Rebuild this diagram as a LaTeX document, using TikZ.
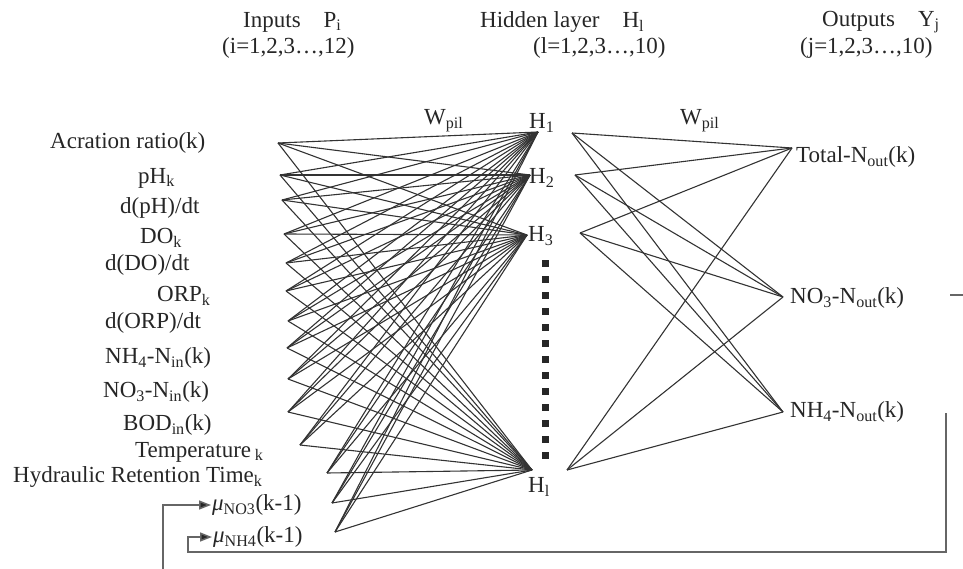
\documentclass[tikz,border=0pt]{standalone}
\usepackage{fontspec}
\setmainfont{Liberation Serif}
\usetikzlibrary{arrows.meta}
\begin{document}
\begin{tikzpicture}[x=1pt,y=-1pt,
  every node/.style={font=\fontsize{23}{27}\selectfont, text=black!85, inner sep=0pt},
  lbl/.style={anchor=west},
  wire/.style={draw=black!80, line width=1.1pt},
  fb/.style={draw=black!60, line width=1.5pt},
  fbarrow/.style={fb, -{Triangle[length=12pt,width=9pt,fill=black!85]}, shorten >=1pt},
  dotsq/.style={fill=black!85}]
\useasboundingbox (0,0) rectangle (963,569);

% headers
\node[lbl] (hin)  at (243,22) {Inputs\quad P\textsubscript{i}};
\node[lbl] (hin2) at (222,48) {(i=1,2,3…,12)};
\node[lbl] (hhd)  at (480,22) {Hidden layer\quad H\textsubscript{l}};
\node[lbl] (hhd2) at (533,48) {(l=1,2,3…,10)};
\node[lbl] (hout) at (822,22) {Outputs\quad Y\textsubscript{j}};
\node[lbl] (hout2) at (800,48) {(j=1,2,3…,10)};

% input labels
\node[lbl] (t1)  at (50,143)  {Acration ratio(k)};
\node[lbl] (t2)  at (138,178) {pH\textsubscript{k}};
\node[lbl] (t3)  at (120,208) {d(pH)/dt};
\node[lbl] (t4)  at (140,238) {DO\textsubscript{k}};
\node[lbl] (t5)  at (105,265) {d(DO)/dt};
\node[lbl] (t6)  at (157,296) {ORP\textsubscript{k}};
\node[lbl] (t7)  at (105,323) {d(ORP)/dt};
\node[lbl] (t8)  at (105,358) {NH\textsubscript{4}-N\textsubscript{in}(k)};
\node[lbl] (t9)  at (103,392) {NO\textsubscript{3}-N\textsubscript{in}(k)};
\node[lbl] (t10) at (123,425) {BOD\textsubscript{in}(k)};
\node[lbl] (t11) at (135,452) {Temperature\,\textsubscript{k}};
\node[lbl] (t12) at (13,477)  {Hydraulic Retention Time\textsubscript{k}};
\node[lbl] (mu1) at (212,505) {{\itshape μ}\textsubscript{NO3}(k-1)};
\node[lbl] (mu2) at (213,537) {{\itshape μ}\textsubscript{NH4}(k-1)};

% input apexes
\coordinate (in1)  at (278,143);
\coordinate (in2)  at (280,175);
\coordinate (in3)  at (282,200);
\coordinate (in4)  at (284,234);
\coordinate (in5)  at (286,263);
\coordinate (in6)  at (286,291);
\coordinate (in7)  at (288,321);
\coordinate (in8)  at (287,348);
\coordinate (in9)  at (288,379);
\coordinate (in10) at (288,412);
\coordinate (in11) at (300,445);
\coordinate (in12) at (327,473);
\coordinate (in13) at (332,503);
\coordinate (in14) at (335,532);

% hidden apexes
\coordinate (h1) at (538,132);
\coordinate (h2) at (530,175);
\coordinate (h3) at (527,235);
\coordinate (h4) at (532,470);
\coordinate (r1) at (572,133);
\coordinate (r2) at (575,175);
\coordinate (r3) at (580,233);
\coordinate (r4) at (567,470);

% output apexes
\coordinate (o1) at (792,148);
\coordinate (o2) at (783,297);
\coordinate (o3) at (783,412);

% connections
\foreach \i in {1,...,14}
  \foreach \h in {1,...,4}
    \draw[wire] (in\i) -- (h\h);
\foreach \h in {1,...,4}
  \foreach \o in {1,2,3}
    \draw[wire] (r\h) -- (o\o);

% hidden labels
\node[lbl] (hl1) at (529,123) {H\textsubscript{1}};
\node[lbl] (hl2) at (529,178) {H\textsubscript{2}};
\node[lbl] (hl3) at (528,236) {H\textsubscript{3}};
\node[lbl] (hl4) at (528,487) {H\textsubscript{l}};

% weight labels
\node[lbl] (w1) at (424,121) {W\textsubscript{pil}};
\node[lbl] (w2) at (680,121) {W\textsubscript{pil}};

% dotted column
\foreach \k in {0,...,12}
  \fill[dotsq] (542,{260+16*\k}) rectangle ++(7,7);

% output labels
\node[lbl] (ol1) at (796,157) {Total-N\textsubscript{out}(k)};
\node[lbl] (ol2) at (790,298) {NO\textsubscript{3}-N\textsubscript{out}(k)};
\node[lbl] (ol3) at (790,412) {NH\textsubscript{4}-N\textsubscript{out}(k)};

% feedback lines
\coordinate (st1) at (950,295);
\coordinate (st2) at (963,295);
\draw[fb] (st1) -- (st2);
\coordinate (fbA) at (163,569);
\draw[fbarrow] (fbA) |- (mu1.west);
\coordinate (fbB) at (946,413);
\coordinate (fbC) at (946,552);
\coordinate (fbD) at (188,552);
\draw[fbarrow] (fbB) -- (fbC) -- (fbD) |- (mu2.west);
\end{tikzpicture}
\end{document}
